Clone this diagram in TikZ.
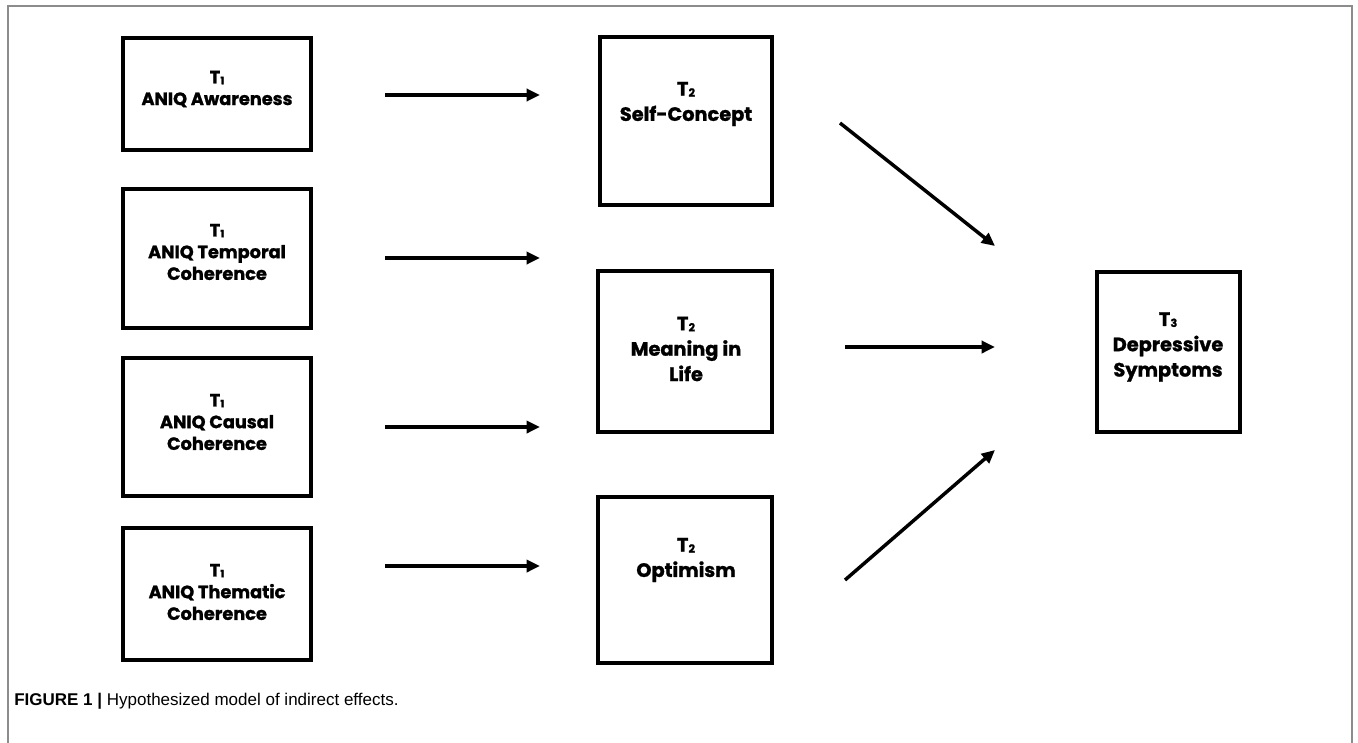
\documentclass[tikz,border=0pt]{standalone}
\usepackage{fontspec}
\usetikzlibrary{arrows.meta}
\newfontfamily\boxfont{Poppins}[BoldFont={* Bold}, BoldFeatures={FakeBold=1.2}]
\newfontfamily\capfont{Liberation Sans}
\newcommand\Tsub[1]{T\kern0.01em\raisebox{-0.1ex}{\scalebox{0.58}{#1}}}
\definecolor{framegray}{HTML}{8C8C8C}
\tikzset{
  x=0.75pt, y=-0.75pt,
  boxnode/.style={draw=black, line width=3pt, rectangle, inner sep=0pt},
  ltext/.style={font=\boxfont\bfseries\fontsize{13.3}{16.3}\selectfont, align=center, inner sep=0pt},
  mtext/.style={font=\boxfont\bfseries\fontsize{14.5}{19}\selectfont, align=center, inner sep=0pt},
  arr/.style={line width=2.6pt, -{Triangle[length=10pt,width=9pt]}},
}
\begin{document}
\begin{tikzpicture}
\useasboundingbox (0,0) rectangle (1358,742);
\fill[white] (0,0) rectangle (1358,742);
% outer frame
\draw[framegray, line width=1pt] (8,745) -- (8,6) -- (1352,6) -- (1352,745);
% left boxes
\node[boxnode, minimum width=141pt, minimum height=84pt] (b1) at (217,94) {};
\node[boxnode, minimum width=141pt, minimum height=104.25pt] (b2) at (217,258.5) {};
\node[boxnode, minimum width=141pt, minimum height=103.5pt] (b3) at (217,427) {};
\node[boxnode, minimum width=141pt, minimum height=99pt] (b4) at (217,594) {};
\node[ltext] (tb1) at (217,89) {\Tsub{1}\\ANIQ Awareness};
\node[ltext] (tb2) at (217,252) {\Tsub{1}\\ANIQ Temporal\\Coherence};
\node[ltext] (tb3) at (217,422) {\Tsub{1}\\ANIQ Causal\\Coherence};
\node[ltext] (tb4) at (217,592) {\Tsub{1}\\ANIQ Thematic\\Coherence};
% middle boxes
\node[boxnode, minimum width=129pt, minimum height=126pt] (m1) at (686,121) {};
\node[boxnode, minimum width=130.5pt, minimum height=120.75pt] (m2) at (685,351.5) {};
\node[boxnode, minimum width=130.5pt, minimum height=124.5pt] (m3) at (685,580) {};
\node[mtext] (tm1) at (686,104) {\Tsub{2}\\Self-Concept};
\node[mtext] (tm2) at (686,349) {\Tsub{2}\\Meaning in\\Life};
\node[mtext] (tm3) at (686,560) {\Tsub{2}\\Optimism};
% right box
\node[boxnode, minimum width=107pt, minimum height=120pt] (r) at (1168.5,352) {};
\node[mtext] (tr) at (1168,347) {\Tsub{3}\\Depressive\\Symptoms};
% arrow end points
\coordinate (a1s) at (385,95);  \coordinate (a1e) at (540,95);
\coordinate (a2s) at (385,258); \coordinate (a2e) at (540,258);
\coordinate (a3s) at (385,427); \coordinate (a3e) at (540,427);
\coordinate (a4s) at (385,566); \coordinate (a4e) at (540,566);
\coordinate (d1s) at (840,123); \coordinate (d1e) at (995,246);
\coordinate (d2s) at (845,347); \coordinate (d2e) at (995,347);
\coordinate (d3s) at (845,580); \coordinate (d3e) at (995,450);
\draw[arr] (a1s) -- (a1e);
\draw[arr] (a2s) -- (a2e);
\draw[arr] (a3s) -- (a3e);
\draw[arr] (a4s) -- (a4e);
\draw[arr] (d1s) -- (d1e);
\draw[arr] (d2s) -- (d2e);
\draw[arr] (d3s) -- (d3e);
% caption
\node[anchor=west, inner sep=0pt, font=\capfont\fontsize{12.75}{15}\selectfont] (cap) at (14,701) {\textbf{FIGURE 1 |} Hypothesized model of indirect effects.};
\end{tikzpicture}
\end{document}
